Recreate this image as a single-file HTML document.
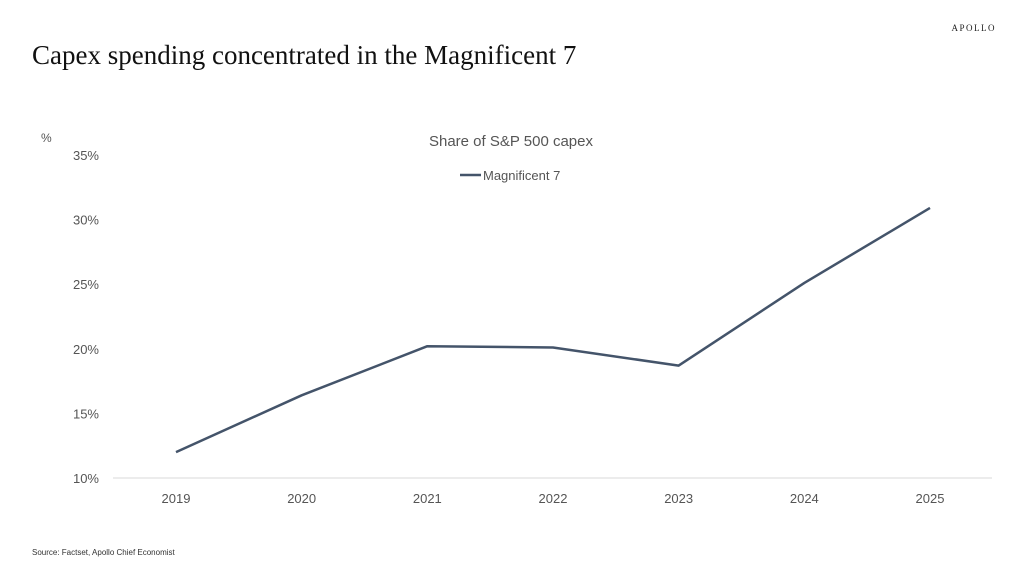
<!DOCTYPE html>
<html><head><meta charset="utf-8"><style>
body{margin:0;background:#fff;}
svg{display:block;}
</style></head><body>
<svg id="chart" width="1024" height="575" xmlns="http://www.w3.org/2000/svg">
<rect width="1024" height="575" fill="#fff"/>
<text x="32" y="64" font-family="Liberation Serif, serif" font-size="27" fill="#111">Capex spending concentrated in the Magnificent 7</text>
<text x="996" y="31" text-anchor="end" font-family="Liberation Serif, serif" font-size="9" letter-spacing="1.5" fill="#222">APOLLO</text>
<text x="511" y="146" text-anchor="middle" font-family="Liberation Sans, sans-serif" font-size="15" fill="#555">Share of S&amp;P 500 capex</text>
<line x1="460" y1="175" x2="481" y2="175" stroke="#44546a" stroke-width="2.5"/>
<text x="483" y="180" font-family="Liberation Sans, sans-serif" font-size="13" fill="#555">Magnificent 7</text>
<text x="41" y="142" font-family="Liberation Sans, sans-serif" font-size="12" fill="#555">%</text>
<text x="32" y="555" font-family="Liberation Sans, sans-serif" font-size="8" fill="#333">Source: Factset, Apollo Chief Economist</text>
<g id="plot"></g>
</svg>
<script>
const categories = ['2019','2020','2021','2022','2023','2024','2025'];
const values = [12.0, 16.4, 20.2, 20.1, 18.7, 25.1, 30.9];
const yTicks = [10, 15, 20, 25, 30, 35];
const NS = 'http://www.w3.org/2000/svg';
const g = document.getElementById('plot');
function xs(i){ return 176 + i * (930 - 176) / (categories.length - 1); }
function ys(v){ return 478 - (v - 10) * (478 - 155) / 25; }
function mk(tag, attrs){ const e = document.createElementNS(NS, tag); for (const k in attrs) e.setAttribute(k, attrs[k]); g.appendChild(e); return e; }
yTicks.forEach(t => {
  const e = mk('text', {x: 99, y: ys(t) + 5, 'text-anchor': 'end', 'font-family': 'Liberation Sans, sans-serif', 'font-size': 13, fill: '#555'});
  e.textContent = t + '%';
  
  
});
const axis = mk('line', {x1: 113, x2: 992, y1: ys(10), y2: ys(10), stroke: '#d9d9d9', 'stroke-width': 1});


categories.forEach((c, i) => {
  const e = mk('text', {x: xs(i), y: 503, 'text-anchor': 'middle', 'font-family': 'Liberation Sans, sans-serif', 'font-size': 13, fill: '#555'});
  e.textContent = c;
  
  
});
const line = mk('polyline', {points: values.map((v, i) => xs(i) + ',' + ys(v)).join(' '), fill: 'none', stroke: '#44546a', 'stroke-width': 2.5, 'stroke-linejoin': 'round'});


</script>
</body></html>
